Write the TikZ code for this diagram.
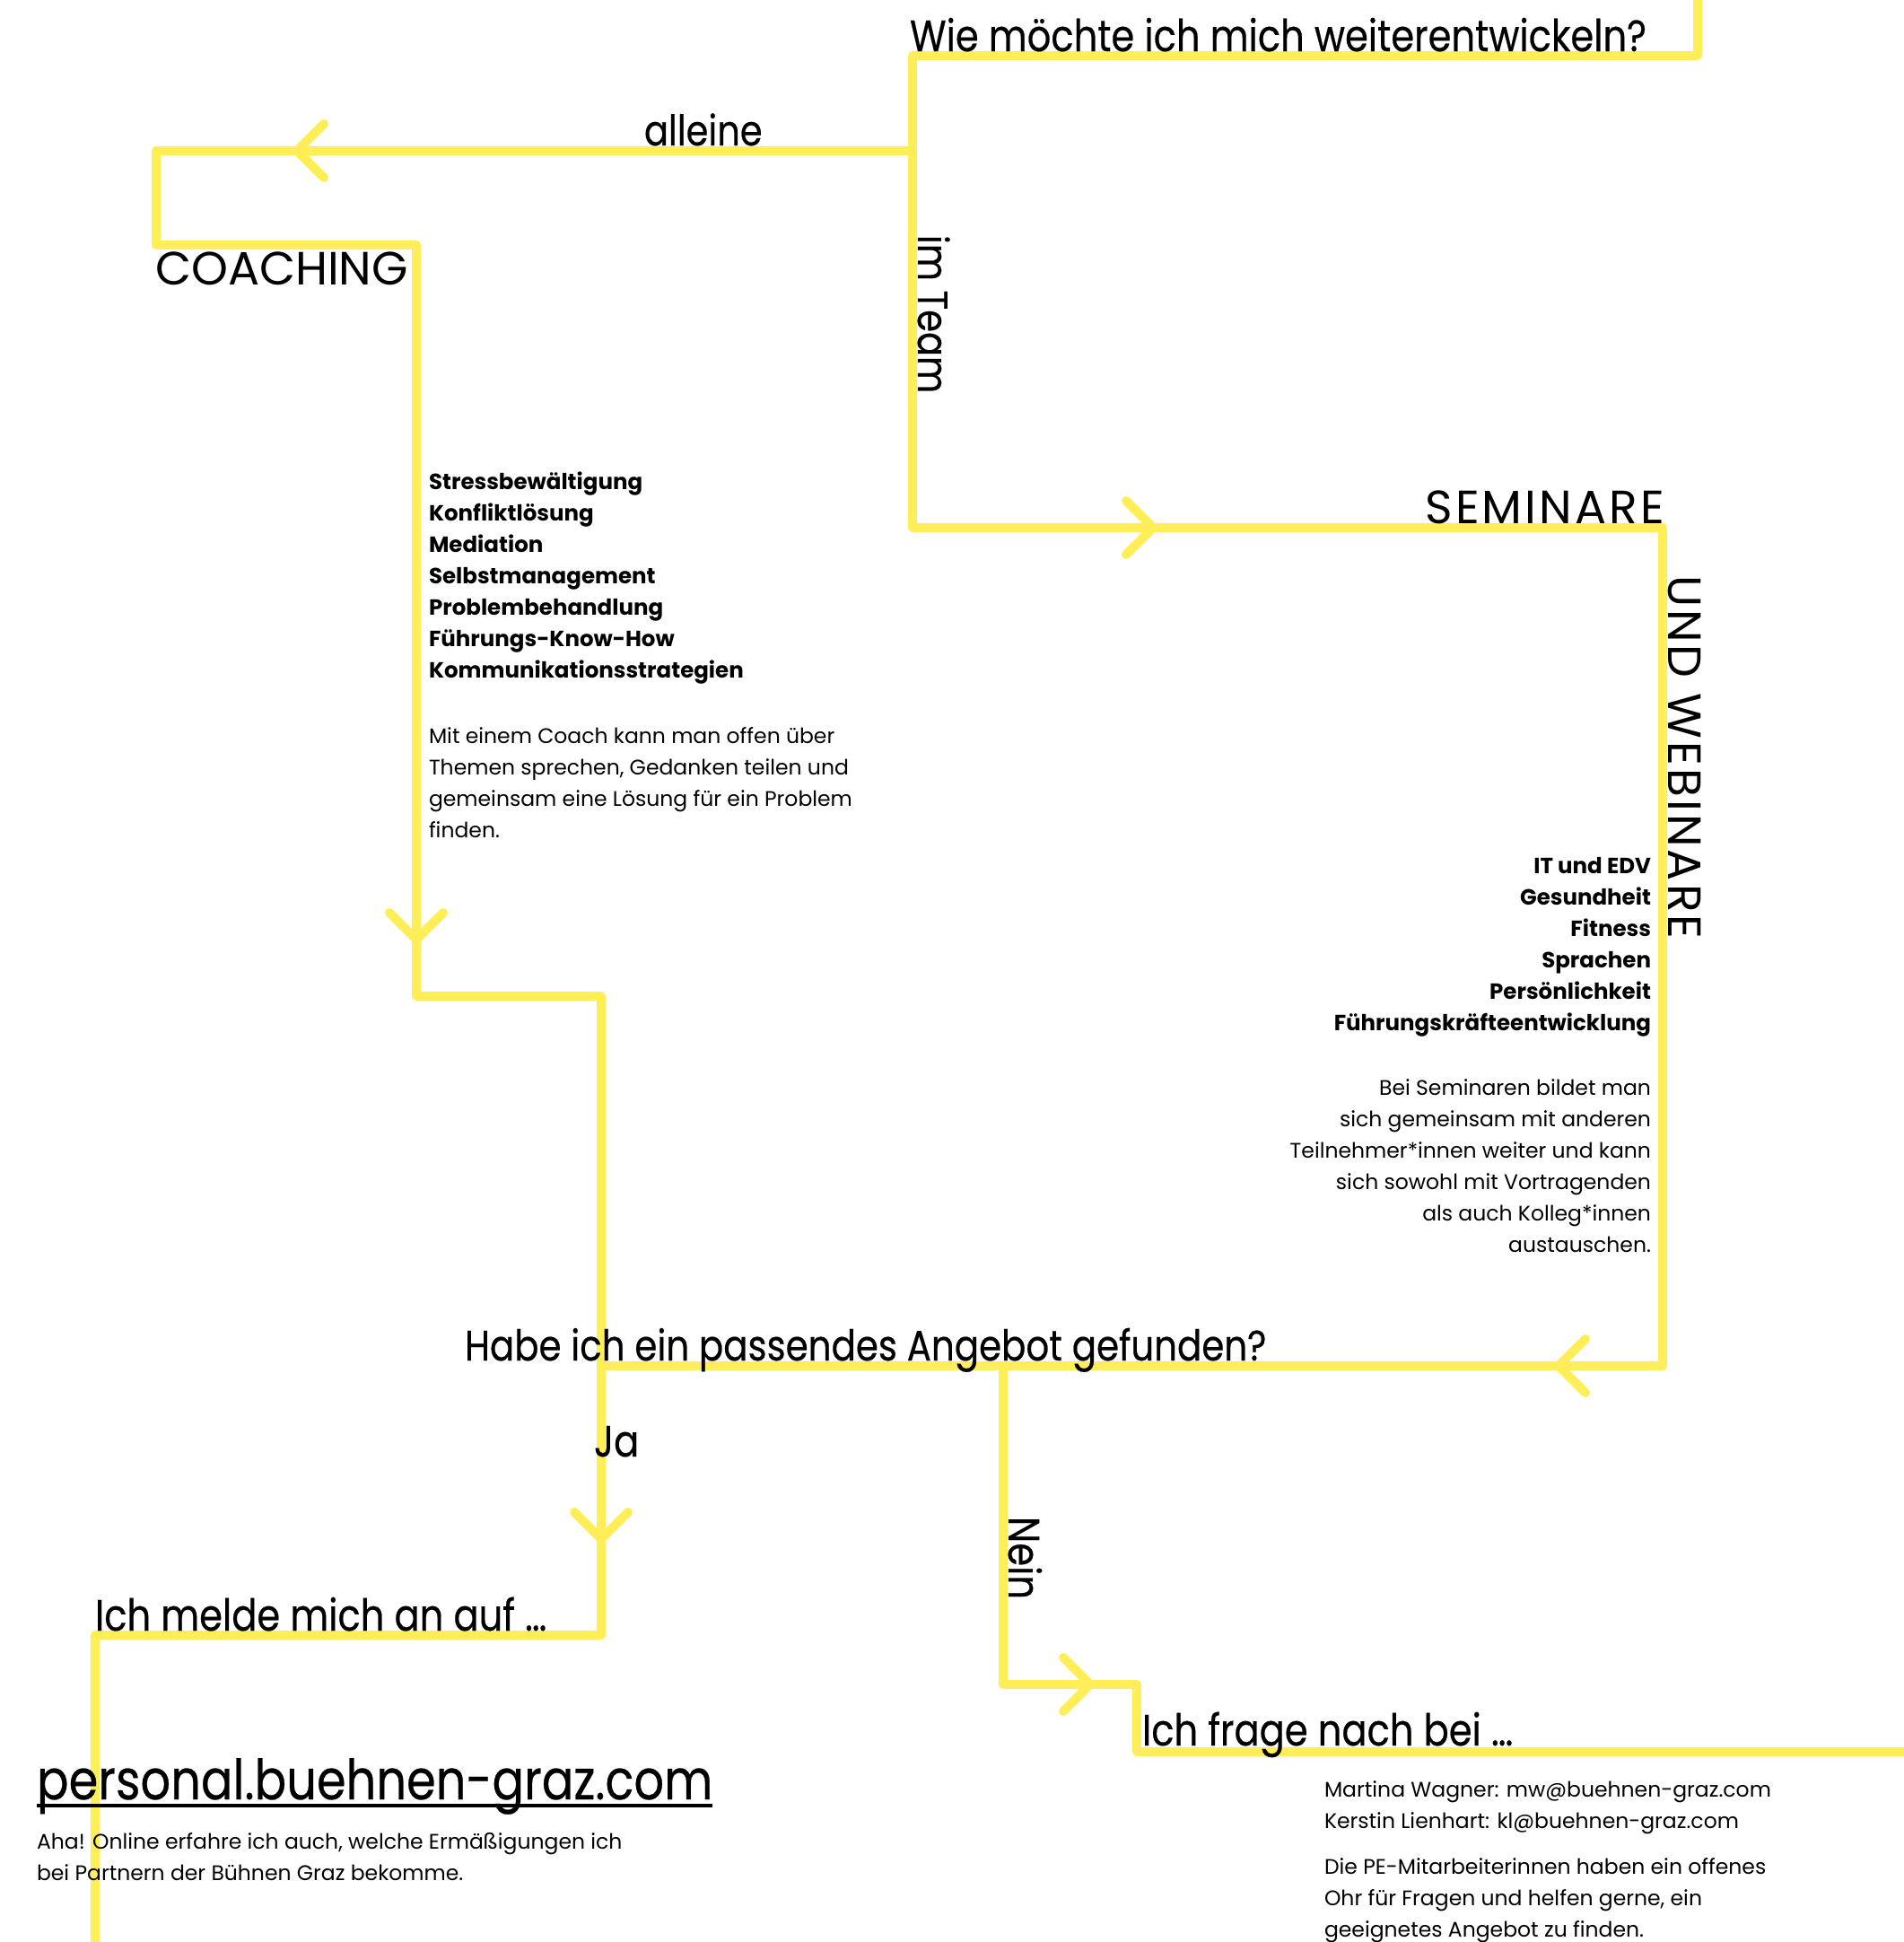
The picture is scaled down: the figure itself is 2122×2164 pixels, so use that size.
\documentclass[tikz,border=0pt]{standalone}
\usepackage{fontspec}
\setmainfont{Poppins}
\newfontfamily\condfont{Poppins}[FakeStretch=0.85,FakeBold=0.4]
\newfontfamily\spacedfont{Poppins}[LetterSpace=6]
\definecolor{flowyellow}{RGB}{255,238,88}
\newcommand\tlines[2]{\begin{tabular}[t]{@{}#1@{}}#2\end{tabular}}
\begin{document}
\begin{tikzpicture}[x=1pt,y=-1pt,
  flow/.style={draw=flowyellow, line width=10pt, line join=round},
  chev/.style={draw=flowyellow, line width=10pt, line cap=round, line join=round},
  lbl/.style={inner sep=0pt, outer sep=0pt, text=black},
  quest/.style={lbl, font=\condfont\fontsize{49}{58}\selectfont},
  questsm/.style={lbl, font=\condfont\fontsize{47}{56}\selectfont},
  head/.style={lbl, font=\fontsize{52}{60}\selectfont},
  headsp/.style={lbl, font=\spacedfont\fontsize{52}{60}\selectfont},
  small/.style={lbl, font=\fontsize{23.5}{35}\selectfont},
  smallbold/.style={lbl, font=\bfseries\fontsize{24.5}{35}\selectfont},
]
\useasboundingbox (0,0) rectangle (2122,2164);
\clip (0,0) rectangle (2122,2164);

% corner coordinates
\coordinate (top)  at (1892,-10);
\coordinate (qR)   at (1892,62);
\coordinate (qL)   at (1017,62);
\coordinate (br)   at (1017,168);
\coordinate (semL) at (1017,588);
\coordinate (semR) at (1853,588);
\coordinate (semB) at (1853,1522);
\coordinate (jn)   at (670,1522);
\coordinate (alL)  at (174,168);
\coordinate (coT)  at (174,273);
\coordinate (coR)  at (464,273);
\coordinate (coB)  at (464,1110);
\coordinate (jaT)  at (670,1110);
\coordinate (jaB)  at (670,1822);
\coordinate (anL)  at (106,1822);
\coordinate (bot)  at (106,2180);
\coordinate (nb)   at (1118,1522);
\coordinate (ne1)  at (1118,1877);
\coordinate (ne2)  at (1267,1877);
\coordinate (fr1)  at (1267,1952);
\coordinate (fr2)  at (2140,1952);
% arrow tips
\coordinate (tAl)  at (331,168);
\coordinate (tSe)  at (1285,588);
\coordinate (tCo)  at (464,1047);
\coordinate (tBk)  at (1737,1522);
\coordinate (tJa)  at (670,1715);
\coordinate (tNe)  at (1215,1877);

% flow lines
\draw[flow] (top) -- (qR) -- (qL) -- (semL) -- (semR) -- (semB) -- (jn);
\draw[flow] (br) -- (alL) -- (coT) -- (coR) -- (coB) -- (jaT) -- (jaB) -- (anL) -- (bot);
\draw[flow] (nb) -- (ne1) -- (ne2) -- (fr1) -- (fr2);

% chevrons
\draw[chev] ([shift={(30,-30)}]tAl) -- (tAl) -- ([shift={(30,30)}]tAl);
\draw[chev] ([shift={(-30,-30)}]tSe) -- (tSe) -- ([shift={(-30,30)}]tSe);
\draw[chev] ([shift={(-30,-30)}]tCo) -- (tCo) -- ([shift={(30,-30)}]tCo);
\draw[chev] ([shift={(30,-30)}]tBk) -- (tBk) -- ([shift={(30,30)}]tBk);
\draw[chev] ([shift={(-30,-30)}]tJa) -- (tJa) -- ([shift={(30,-30)}]tJa);
\draw[chev] ([shift={(-30,-30)}]tNe) -- (tNe) -- ([shift={(-30,30)}]tNe);

% texts
\node[quest, anchor=base west] (q1) at (1014,57) {Wie möchte ich mich weiterentwickeln?};
\node[questsm, anchor=base west] (alleine) at (718,162) {alleine};
\node[questsm, rotate=-90, anchor=base west] (team) at (1023,262) {im Team};
\node[head, anchor=base west] (coaching) at (173,317) {COACHING};
\node[headsp, anchor=base east] (seminare) at (1855,583) {SEMINARE};
\node[headsp, rotate=-90, anchor=base west] (webinare) at (1859,641) {UND WEBINARE};

\node[smallbold, anchor=base west] (colist) at (478,545) {\tlines{l}{Stressbewältigung\\Konfliktlösung\\Mediation\\Selbstmanagement\\Problembehandlung\\Führungs-Know-How\\Kommunikationsstrategien}};
\node[small, anchor=base west] (copara) at (478,828) {\tlines{l}{Mit einem Coach kann man offen über\\Themen sprechen, Gedanken teilen und\\gemeinsam eine Lösung für ein Problem\\finden.}};

\node[smallbold, anchor=base east] (selist) at (1840,973) {\tlines{r}{IT und EDV\\Gesundheit\\Fitness\\Sprachen\\Persönlichkeit\\Führungskräfteentwicklung}};
\node[small, anchor=base east] (separa) at (1840,1220) {\tlines{r}{Bei Seminaren bildet man\\sich gemeinsam mit anderen\\Teilnehmer*innen weiter und kann\\sich sowohl mit Vortragenden\\als auch Kolleg*innen\\austauschen.}};

\node[lbl, font=\condfont\fontsize{47.5}{56}\selectfont, anchor=base west] (q2) at (518,1516) {Habe ich ein passendes Angebot gefunden?};
\node[quest, anchor=base west] (ja) at (662,1623) {Ja};
\node[quest, rotate=-90, anchor=base west] (nein) at (1124,1690) {Nein};

\node[quest, anchor=base west] (anmelden) at (106,1817) {Ich melde mich an auf …};
\node[lbl, font=\condfont\fontsize{62}{70}\selectfont, anchor=base west] (url) at (41,2005) {personal.buehnen-graz.com};
\draw[line width=3.5pt, black] ([shift={(0,7)}]url.base west) -- ([shift={(0,7)}]url.base east);
\node[small, anchor=base west] (aha) at (41,2060) {\tlines{l}{Aha! Online erfahre ich auch, welche Ermäßigungen ich\\bei Partnern der Bühnen Graz bekomme.}};

\node[quest, anchor=base west] (frage) at (1273,1945) {Ich frage nach bei …};
\node[small, anchor=base west] (kontakt) at (1476,2002) {\tlines{l}{Martina Wagner: mw@buehnen-graz.com\\Kerstin Lienhart: kl@buehnen-graz.com}};
\node[small, anchor=base west] (pe) at (1476,2088) {\tlines{l}{Die PE-Mitarbeiterinnen haben ein offenes\\Ohr für Fragen und helfen gerne, ein\\geeignetes Angebot zu finden.}};
\end{tikzpicture}
\end{document}
